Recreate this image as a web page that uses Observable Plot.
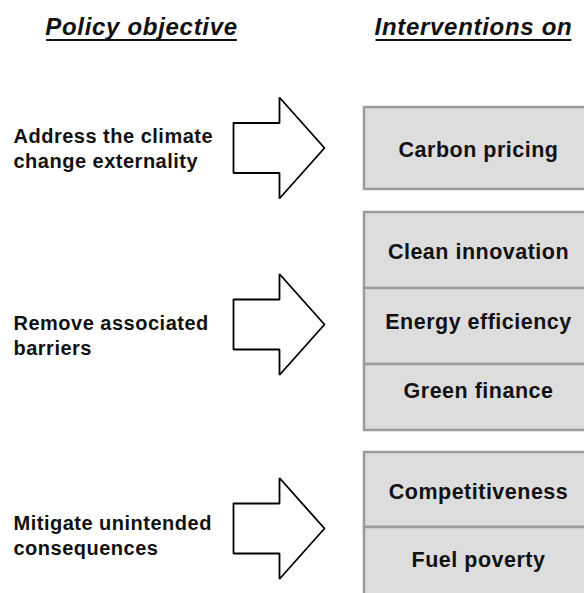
<!DOCTYPE html>
<html><head><meta charset="utf-8">
<script src="https://cdn.jsdelivr.net/npm/d3@7"></script>
<script src="https://cdn.jsdelivr.net/npm/@observablehq/plot@0.6"></script>
<style>
body{margin:0;background:#fff;}
svg{display:block;}
</style>
</head><body><div id="chart"></div>
<script>
// ---- data ----
const headers = ["Policy objective", "Interventions on"];
const objectives = ["Address the climate\nchange externality", "Remove associated\nbarriers", "Mitigate unintended\nconsequences"];
const interventions = ["Carbon pricing", "Clean innovation", "Energy efficiency", "Green finance", "Competitiveness", "Fuel poverty"];
const interventionGroup = [0, 1, 1, 1, 2, 2];

// ---- layout (pixels) ----
const W = 584, H = 593;
const headerX = [141, 473], headerY = 27, underlineOffset = 13;
const objTextX = 13;
const objTextY = [147, 334, 534];
const arrowCY = [147.5, 324, 528];
const arrow = {x0: 233, xh: 279, xt: 324, shaft: 25, head: 50.5};
const boxX1 = 364, boxX2 = 600, boxTextX = 478;
const rowTop = [107, 212, 288, 364, 452, 527];
const rowBottom = [189, 288, 364, 430, 527, 603];
const rowTextY = [150, 252, 322, 391, 492, 560];

const headerData = headers.map((t, i) => ({t, x: headerX[i], y: headerY}));
const objData = objectives.map((t, i) => ({t, x: objTextX, y: objTextY[i]}));
const arrowPts = objectives.flatMap((_, i) => {
  const c = arrowCY[i], a = arrow;
  return [[a.x0, c - a.shaft], [a.xh, c - a.shaft], [a.xh, c - a.head], [a.xt, c],
          [a.xh, c + a.head], [a.xh, c + a.shaft], [a.x0, c + a.shaft], [a.x0, c - a.shaft]]
    .map(([x, y]) => ({x, y, g: i}));
});
const rows = interventions.map((t, i) => ({t, g: interventionGroup[i], y1: rowTop[i], y2: rowBottom[i], ty: rowTextY[i], tx: boxTextX}));

const font = "Liberation Sans, Arial, Helvetica, sans-serif";
const chart = Plot.plot({
  width: W, height: H,
  margin: 0,
  style: {fontFamily: font, background: "#fff"},
  x: {domain: [0, W], range: [0, W], axis: null},
  y: {domain: [0, H], range: [0, H], axis: null},
  marks: [
    Plot.rect(rows, {x1: boxX1, x2: boxX2, y1: "y1", y2: "y2", fill: "#dddddd", stroke: "#9b9b9b", strokeWidth: 2.5}),
    Plot.text(rows, {x: "tx", y: "ty", text: "t", fontSize: 21.5, fontWeight: "bold", fill: "#111", textAnchor: "middle"}),
    Plot.line(arrowPts, {x: "x", y: "y", z: "g", fill: "white", stroke: "#000", strokeWidth: 1.8, strokeLinejoin: "miter"}),
    Plot.text(objData, {x: "x", y: "y", text: "t", fontSize: 20, fontWeight: "bold", fill: "#111", textAnchor: "start", lineAnchor: "middle", lineHeight: 1.25}),
    Plot.text(headerData, {x: "x", y: "y", text: "t", fontSize: 24, fontWeight: "bold", fontStyle: "italic", fill: "#111", textAnchor: "middle"})
  ]
});
const svg = chart.tagName.toLowerCase() === "svg" ? chart : chart.querySelector("svg");
const textGroups = Array.from(svg.querySelectorAll("g[aria-label='text']"));
const [boxG, objG, headG] = textGroups;
const spacing = [[boxG, "0.5px"], [objG, "0.5px"], [headG, "0.7px"]];
spacing.forEach(([g, s]) => { if (g) g.querySelectorAll("text").forEach(t => t.style.letterSpacing = s); });
document.getElementById("chart").appendChild(chart);
// underline headers (measured from rendered text extent)
const svgRect = svg.getBoundingClientRect();
if (headG) headG.querySelectorAll("text").forEach(t => {
  const r = t.getBoundingClientRect();
  const y = headerY + underlineOffset;
  const ln = document.createElementNS("http://www.w3.org/2000/svg", "line");
  ln.setAttribute("x1", r.left - svgRect.left + 1); ln.setAttribute("x2", r.right - svgRect.left - 1);
  ln.setAttribute("y1", y); ln.setAttribute("y2", y);
  ln.setAttribute("stroke", "#111"); ln.setAttribute("stroke-width", 2);
  svg.appendChild(ln);
});
</script>
</body></html>
